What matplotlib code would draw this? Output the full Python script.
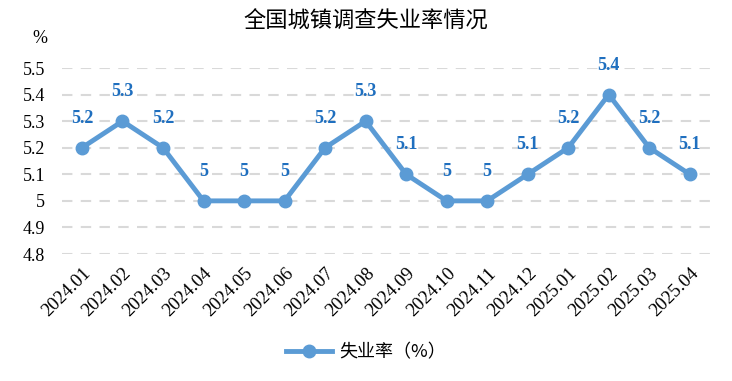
import matplotlib
matplotlib.use('Agg')
import matplotlib.pyplot as plt

months = ['2024.01', '2024.02', '2024.03', '2024.04', '2024.05', '2024.06',
          '2024.07', '2024.08', '2024.09', '2024.10', '2024.11', '2024.12',
          '2025.01', '2025.02', '2025.03', '2025.04']
rate = [5.2, 5.3, 5.2, 5.0, 5.0, 5.0, 5.2, 5.3, 5.1, 5.0, 5.0, 5.1,
        5.2, 5.4, 5.2, 5.1]
yticks = [4.8, 4.9, 5, 5.1, 5.2, 5.3, 5.4, 5.5]

cjk = ['Noto Sans CJK SC', 'DejaVu Sans']
serif = 'Liberation Serif'
line_color = '#5B9BD5'
label_color = '#1F6FBF'

fig = plt.figure(figsize=(7.32, 3.81), dpi=100)
ax = fig.add_axes([0.0843, 0.3333, 0.8857, 0.4882])

x = list(range(len(months)))
ax.plot(x, rate, color=line_color, lw=3.5, marker='o', ms=9,
        label='失业率（%）', zorder=3)

for xi, v in zip(x, rate):
    txt = '{:g}'.format(v)
    ax.annotate(txt, (xi, v), xytext=(0, 15), textcoords='offset points',
                ha='center', va='bottom', color=label_color,
                fontsize=13, fontweight='bold', family=serif)

ax.set_xlim(-0.5, len(months) - 0.5)
ax.set_ylim(4.8, 5.5)
ax.set_yticks(yticks)
ax.set_yticklabels(['{:g}'.format(t) for t in yticks], family=serif, fontsize=13)
ax.set_xticks(x)
ax.set_xticklabels(months, rotation=45, ha='right', rotation_mode='anchor',
                   family=serif, fontsize=13.5)
ax.tick_params(axis='y', length=0, pad=12)
ax.tick_params(axis='x', length=0, pad=8)

for t in yticks:
    ax.axhline(t, color='#D9D9D9', lw=1.5, ls=(0, (5, 4)), zorder=1)

for s in ax.spines.values():
    s.set_visible(False)

fig.text(0.5, 0.945, '全国城镇调查失业率情况', ha='center', va='center',
         fontsize=16, family=cjk)
fig.text(0.055, 0.90, '%', ha='center', va='center', fontsize=13, family=serif)

leg = fig.legend(loc='center', bbox_to_anchor=(0.5, 0.075), frameon=False,
                 prop={'family': cjk, 'size': 13}, handlelength=2.5,
                 handletextpad=0.4)

fig.savefig('out.png', dpi=100)
